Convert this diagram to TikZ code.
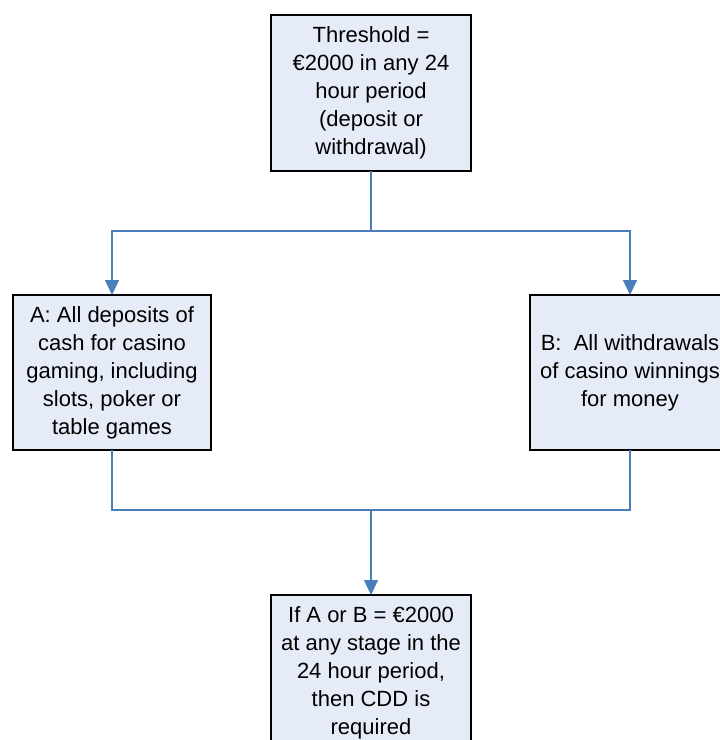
\documentclass[tikz,border=0pt]{standalone}
\usepackage{fontspec}
\setmainfont{Liberation Sans}
\usetikzlibrary{arrows.meta}
\definecolor{boxfill}{HTML}{E6ECF7}
\definecolor{linkblue}{HTML}{4A7EBB}
\begin{document}
\begin{tikzpicture}[x=1pt,y=-1pt,
    box/.style={draw=black,line width=1.2pt,fill=boxfill,align=center,
      minimum width=200pt,minimum height=156pt,inner sep=0pt,outer sep=0pt,
      font=\fontsize{22}{28}\selectfont},
    link/.style={draw=linkblue,line width=1.2pt},
    arr/.style={link,-{Triangle[width=14pt,length=15pt]}}]
  \useasboundingbox (0,0) rectangle (720,740);
  \clip (0,0) rectangle (720,740);
  \fill[white] (0,0) rectangle (720,740);
  \draw
    (371,93) node[box] (top){Threshold =\\€2000 in any 24\\hour period\\(deposit or\\withdrawal)}
    (112,372.5) node[box,minimum width=198pt,minimum height=155pt] (a){A: All deposits of\\cash for casino\\gaming, including\\slots, poker or\\table games}
    (630,372.5) node[box,minimum height=155pt] (b){B:\ \ All withdrawals\\of casino winnings\\for money}
    (371,673) node[box] (cdd){If A or B = €2000\\at any stage in the\\24 hour period,\\then CDD is\\required};
  \coordinate (split) at (371,231);
  \coordinate (merge) at (371,510);
  \begin{scope}[link]
    \draw (top.south) -- (split);
    \draw[arr] (split) -| (a.north);
    \draw[arr] (split) -| (b.north);
    \draw (a.south) |- (merge);
    \draw (b.south) |- (merge);
    \draw[arr] (merge) -- (cdd.north);
  \end{scope}
\end{tikzpicture}
\end{document}
